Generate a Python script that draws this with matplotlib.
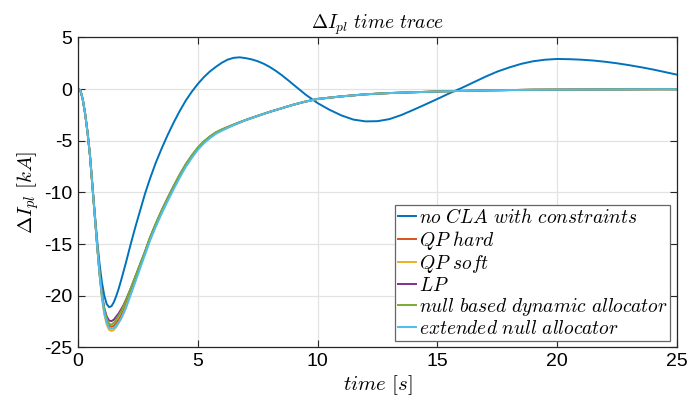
import numpy as np
import matplotlib
matplotlib.use('Agg')
import matplotlib.pyplot as plt

plt.rcParams['mathtext.fontset'] = 'cm'
plt.rcParams['font.family'] = ['Liberation Sans', 'DejaVu Sans']
plt.rcParams['axes.unicode_minus'] = False

# time samples [s] for the case without allocator
t_blue = [0, 0.1, 0.2, 0.3, 0.4, 0.5, 0.6, 0.7, 0.8, 0.9, 1.0, 1.1, 1.2, 1.3, 1.4, 1.5, 1.6, 1.7,
          1.8, 2.0, 2.2, 2.4, 2.6, 2.8, 3.0, 3.25, 3.5, 3.75, 4.0, 4.25, 4.5, 4.75, 5.0, 5.25,
          5.5, 5.75, 6.0, 6.25, 6.5, 6.75, 7.0, 7.25, 7.5, 7.75, 8.0, 8.25, 8.5, 8.75, 9.0,
          9.5, 10.0, 10.5, 11.0, 11.5, 12.0, 12.5, 13.0, 13.5, 14.0, 14.5, 15.0, 15.5, 16.0,
          16.5, 17.0, 17.5, 18.0, 18.5, 19.0, 19.5, 20.0, 20.5, 21.0, 21.5, 22.0, 22.5, 23.0,
          23.5, 24.0, 24.5, 25.0]

no_cla = [0, -0.1, -1.0, -2.4, -4.2, -6.4, -9.2, -12.0, -14.6, -16.9, -18.7, -20.0, -20.8, -21.1,
          -21.0, -20.6, -20.0, -19.3, -18.5, -16.8, -15.0, -13.3, -11.7, -10.1, -8.7, -7.1,
          -5.7, -4.4, -3.2, -2.1, -1.1, -0.25, 0.5, 1.15, 1.7, 2.15, 2.55, 2.86, 3.03, 3.08,
          3.0, 2.88, 2.7, 2.46, 2.15, 1.78, 1.36, 0.9, 0.42, -0.53, -1.35, -2.0, -2.55, -2.95,
          -3.12, -3.1, -2.9, -2.5, -2.0, -1.48, -0.95, -0.4, 0.1, 0.65, 1.2, 1.7, 2.1, 2.45,
          2.7, 2.85, 2.92, 2.9, 2.85, 2.77, 2.65, 2.5, 2.32, 2.12, 1.9, 1.65, 1.4]

# time samples [s] for the allocator cases
t = [0, 0.1, 0.2, 0.3, 0.4, 0.5, 0.6, 0.7, 0.8, 0.9, 1.0, 1.1, 1.2, 1.3, 1.4, 1.5, 1.6, 1.7, 1.8,
     1.9, 2.0, 2.2, 2.4, 2.6, 2.8, 3.0, 3.25, 3.5, 3.75, 4.0, 4.25, 4.5, 4.75, 5.0, 5.25, 5.5,
     5.75, 6.0, 6.5, 7.0, 7.5, 8.0, 8.5, 9.0, 9.5, 10, 11, 12, 13, 14, 15, 16, 17, 18, 19, 20,
     21, 22, 23, 24, 25]

qp_hard = [0, -0.1, -1.0, -2.4, -4.2, -6.4, -9.3, -12.2, -15.1, -17.8, -20.0, -21.5, -22.4, -22.9,
           -23.0, -22.9, -22.6, -22.3, -21.9, -21.4, -20.9, -19.6, -18.3, -17.0, -15.8, -14.5,
           -13.1, -11.8, -10.6, -9.45, -8.35, -7.35, -6.5, -5.75, -5.15, -4.65, -4.25, -3.95,
           -3.45, -3.0, -2.6, -2.2, -1.85, -1.5, -1.2, -0.95, -0.7, -0.5, -0.38, -0.3, -0.23,
           -0.17, -0.12, -0.09, -0.06, -0.05, -0.04, -0.03, -0.02, -0.01, -0.01]

qp_soft = [0, -0.1, -1.0, -2.4, -4.2, -6.4, -9.3, -12.2, -15.2, -17.9, -20.2, -21.8, -22.8, -23.3,
           -23.4, -23.3, -23.0, -22.6, -22.2, -21.7, -21.1, -19.8, -18.5, -17.1, -15.9, -14.6,
           -13.2, -11.9, -10.7, -9.55, -8.45, -7.45, -6.6, -5.82, -5.2, -4.7, -4.3, -4.0,
           -3.47, -3.0, -2.6, -2.2, -1.85, -1.5, -1.2, -0.95, -0.7, -0.5, -0.38, -0.3, -0.23,
           -0.17, -0.12, -0.09, -0.06, -0.05, -0.04, -0.03, -0.02, -0.01, -0.01]

lp = [0, -0.1, -1.0, -2.4, -4.2, -6.4, -9.3, -12.2, -15.1, -17.7, -19.8, -21.2, -22.0, -22.4,
      -22.45, -22.3, -22.0, -21.7, -21.3, -20.9, -20.4, -19.3, -18.1, -16.9, -15.7, -14.4,
      -13.0, -11.7, -10.5, -9.35, -8.27, -7.28, -6.43, -5.68, -5.08, -4.6, -4.2, -3.92,
      -3.43, -2.98, -2.58, -2.2, -1.85, -1.5, -1.2, -0.95, -0.7, -0.5, -0.38, -0.3, -0.23,
      -0.17, -0.12, -0.09, -0.06, -0.05, -0.04, -0.03, -0.02, -0.01, -0.01]

null_dyn = [0, -0.1, -1.0, -2.4, -4.2, -6.4, -9.3, -12.2, -15.1, -17.8, -19.9, -21.3, -22.2, -22.7,
            -22.8, -22.6, -22.3, -21.9, -21.5, -21.0, -20.5, -19.3, -18.1, -16.9, -15.7, -14.4,
            -13.0, -11.7, -10.5, -9.35, -8.25, -7.25, -6.4, -5.65, -5.06, -4.58, -4.18, -3.9,
            -3.42, -2.97, -2.57, -2.2, -1.85, -1.5, -1.2, -0.95, -0.7, -0.5, -0.38, -0.3, -0.23,
            -0.17, -0.12, -0.09, -0.06, -0.05, -0.04, -0.03, -0.02, -0.01, -0.01]

ext_null = [0, -0.1, -1.0, -2.4, -4.2, -6.4, -9.3, -12.2, -15.1, -17.9, -20.1, -21.7, -22.6, -23.1,
            -23.2, -23.1, -22.9, -22.6, -22.2, -21.7, -21.2, -19.9, -18.6, -17.3, -16.0, -14.7,
            -13.3, -12.0, -10.8, -9.65, -8.55, -7.52, -6.65, -5.88, -5.25, -4.75, -4.33, -4.02,
            -3.48, -3.0, -2.6, -2.2, -1.85, -1.5, -1.2, -0.95, -0.7, -0.5, -0.38, -0.3, -0.23,
            -0.17, -0.12, -0.09, -0.06, -0.05, -0.04, -0.03, -0.02, -0.01, -0.01]

series = [no_cla, qp_hard, qp_soft, lp, null_dyn, ext_null]
times = [t_blue, t, t, t, t, t]
labels = [r'$no\ CLA\ with\ constraints$', r'$QP\ hard$', r'$QP\ soft$', r'$LP$',
          r'$null\ based\ dynamic\ allocator$', r'$extended\ null\ allocator$']
colors = ['#0072BD', '#D95319', '#EDB120', '#7E2F8E', '#77AC30', '#4DBEEE']

xticks = [0, 5, 10, 15, 20, 25]
yticks = [5, 0, -5, -10, -15, -20, -25]

fig = plt.figure(figsize=(6.87, 4.15), dpi=100)
ax = fig.add_axes([0.1135, 0.1627, 0.872, 0.747])

for x, y, lab, c in zip(times, series, labels, colors):
    ax.plot(x, y, color=c, lw=1.4, label=lab)

ax.set_xlim(0, 25)
ax.set_ylim(-25, 5)
ax.set_xticks(xticks)
ax.set_yticks(yticks)
ax.set_xticklabels([str(v) for v in xticks])
ax.set_yticklabels([str(v) for v in yticks])
ax.tick_params(direction='in', length=5, width=0.8, top=True, right=True,
               labelsize=14, colors='#262626', pad=4)
for lbl in ax.get_xticklabels() + ax.get_yticklabels():
    lbl.set_color('black')
ax.grid(True, color='#e3e3e3', lw=0.9)
ax.set_axisbelow(True)
for s in ax.spines.values():
    s.set_color('#262626')
    s.set_linewidth(0.9)

ax.set_title(r'$\Delta I_{pl}\ time\ trace$', fontsize=14, pad=6)
ax.set_xlabel(r'$time\ [s]$', fontsize=15, labelpad=2)
ax.set_ylabel(r'$\Delta I_{pl}\ [kA]$', fontsize=15, labelpad=2)

leg = ax.legend(loc='lower right', fontsize=14, handlelength=0.9, handletextpad=0.15,
                labelspacing=0.08, borderpad=0.15, borderaxespad=0.35, fancybox=False,
                framealpha=1, edgecolor='#666666')
leg.get_frame().set_linewidth(0.9)

fig.savefig('out.png', dpi=100)
